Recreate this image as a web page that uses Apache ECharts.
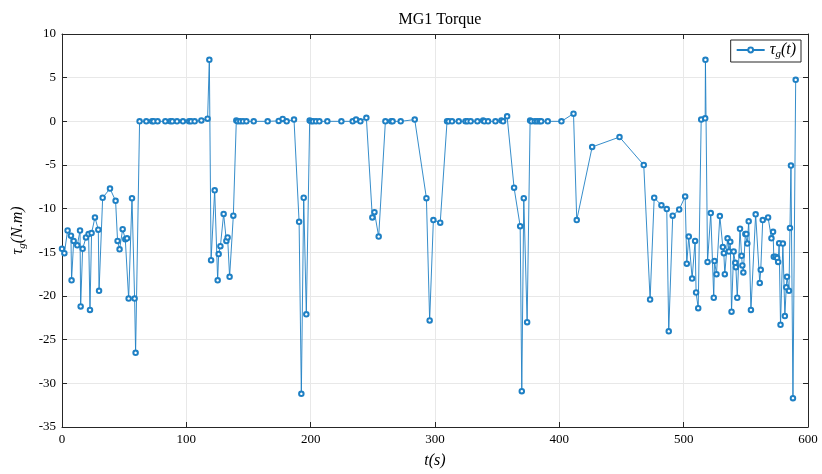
<!DOCTYPE html>
<html>
<head>
<meta charset="utf-8">
<script src="https://cdn.jsdelivr.net/npm/echarts@6/dist/echarts.min.js"></script>
<style>
  html, body { margin: 0; padding: 0; background: #fff; }
  #chart { width: 822px; height: 474px; }
</style>
</head>
<body>
<div id="chart"></div>
<script>
// time (s)
const time = [
  0, 1.9, 4.5, 7.2, 7.7, 9.4, 12.3, 14.5, 15, 16.6, 19.3, 21.4, 22.5, 23.8, 26.5, 29.2, 29.8,
  32.7, 38.6, 43.1, 44.7, 46.3, 48.8, 50.9, 52.3, 53.6, 56.3, 58.4, 59.2, 62.4, 67.8, 72.4,
  73.7, 76.9, 83.1, 87.1, 88.7, 92.5, 97.3, 102.2, 103.8, 106.7, 112.1, 117.1, 118.5, 119.9,
  122.8, 125.2, 126, 127.4, 130, 132.2, 133.2, 134.8, 137.8, 140.2, 141.3, 143.4, 145.6, 148.3,
  154.2, 165.4, 174.3, 177.5, 180.7, 186.6, 190.7, 192.5, 194.4, 196.5, 199.2, 200.3, 201.9,
  204.3, 207, 213.4, 224.7, 233.8, 236.5, 240, 244.8, 249.6, 251.3, 254.7, 260.1, 264.7, 265.9,
  272.4, 283.7, 293.1, 295.7, 298.7, 304.2, 309.7, 311, 313.7, 319.1, 324.5, 326.1, 328.7,
  334.1, 338.7, 339.7, 342.7, 348.6, 353.4, 354.8, 358, 363.6, 368.5, 369.8, 371.4, 374.1,
  376.5, 377.6, 380.3, 382.1, 384, 385.4, 390.7, 401.7, 411.4, 414, 426.4, 448.4, 467.9, 473,
  476.3, 482.1, 486.4, 488, 491.2, 496.4, 501.2, 502.5, 504.1, 506.8, 509.2, 510, 511.7, 514.1,
  517.3, 517.5, 519.2, 521.8, 524.2, 524.8, 526.4, 529.1, 531.5, 532.3, 533.1, 535.3, 536.4,
  537.5, 538.5, 540.2, 541.5, 542, 543.1, 545.3, 546.6, 547.2, 548, 549.6, 550.4, 551.2, 552.3,
  554.1, 557.9, 561.2, 562, 563.6, 567.9, 570.6, 571.9, 572.5, 573.9, 575.2, 576, 576.8, 577.9,
  579.8, 581.4, 582.5, 583.1, 584.7, 585.5, 586.3, 587.9, 590.1
]
// MG1 torque (N.m)
const torque = [
  -14.6, -15.1, -12.5, -13.1, -18.2, -13.7, -14.2, -12.5, -21.2, -14.6, -13.3, -12.9, -21.6, -12.8, -11.0, -12.4, -19.4,
  -8.75, -7.7, -9.1, -13.7, -14.65, -12.35, -13.5, -13.4, -20.3, -8.8, -20.3, -26.5, 0, 0, 0,
  0, 0, 0, 0, 0, 0, 0, 0, 0, 0, 0.1, 0.3, 7.05, -15.9,
  -7.9, -18.2, -15.2, -14.3, -10.6, -13.7, -13.3, -17.8, -10.8, 0.1, 0, 0, 0, 0,
  0, 0, 0.05, 0.27, 0, 0.2, -11.5, -31.2, -8.75, -22.1, 0.1, 0, 0,
  0, 0, 0, 0, 0, 0.2, 0, 0.4, -11.0, -10.4, -13.2, 0, 0, 0,
  0, 0.2, -8.8, -22.8, -11.3, -11.6, 0, 0, 0, 0, 0, 0, 0,
  0, 0.1, 0, 0, 0, 0.1, 0, 0.57, -7.6, -12.0, -30.9, -8.8, -23.0,
  0.1, 0, 0, 0, 0, 0, 0, 0, 0.88, -11.3, -2.93, -1.8, -5.0, -20.4,
  -8.75, -9.6, -10.05, -24.05, -10.8, -10.1, -8.6, -16.3, -13.2, -18.0, -13.7, -19.6, -21.4, 0.2,
  0.35, 7.05, -16.1, -10.5, -20.2, -16.0, -17.5, -10.85, -14.4, -15.1, -17.5, -13.4, -14.9,
  -13.8, -21.8, -14.9, -16.2, -16.7, -20.2, -12.3, -15.4, -16.5, -17.3, -12.9, -12.9, -14.0, -11.45,
  -21.6, -10.65, -18.5, -17.0, -11.3, -11.0, -13.4, -12.65, -15.5, -15.5, -15.65, -16.1, -13.95, -23.3,
  -14.0, -22.3, -19.0, -17.8, -19.4, -12.2, -5.07, -31.7, 4.75
]

const lineColor = "#1f80c4"
const axisColor = "#262626"
const gridColor = "#e8e8e8"
const serif = "Liberation Serif"

const chart = echarts.init(document.getElementById("chart"))

const tickAxisX = {
  type: "value",
  min: 0,
  max: 600,
  interval: 100,
  axisLine: { show: true, onZero: false, lineStyle: { color: axisColor, width: 1 } },
  axisTick: { show: true, inside: true, length: 5, lineStyle: { color: axisColor } },
}
const tickAxisY = {
  type: "value",
  min: -35,
  max: 10,
  interval: 5,
  axisLine: { show: true, onZero: false, lineStyle: { color: axisColor, width: 1 } },
  axisTick: { show: true, inside: true, length: 5, lineStyle: { color: axisColor } },
}

const richMath = {
  a: { fontFamily: serif, fontStyle: "italic", fontSize: 16, color: "#000", lineHeight: 20, verticalAlign: "middle" },
  b: { fontFamily: serif, fontStyle: "italic", fontSize: 11, color: "#000", lineHeight: 11, verticalAlign: "bottom" },
}

chart.setOption({
  animation: false,
  title: {
    text: "MG1 Torque",
    left: 435,
    top: 7,
    textAlign: "center",
    textStyle: { fontFamily: serif, fontWeight: "normal", fontSize: 16, color: "#000" },
  },
  grid: { left: 62, right: 14, top: 34, bottom: 46 },
  legend: {
    right: 21,
    top: 40,
    orient: "vertical",
    backgroundColor: "#fff",
    borderColor: axisColor,
    borderWidth: 1,
    borderRadius: 0,
    padding: [2, 5, 2, 5],
    itemWidth: 28,
    itemHeight: 6,
    itemGap: 2,
    formatter: () => "{a|τ}{b|g}{a|(t)}",
    textStyle: { rich: richMath },
  },
  xAxis: [
    {
      ...tickAxisX,
      position: "bottom",
      name: "{a|t}{a|(s)}",
      nameLocation: "middle",
      nameGap: 24,
      nameTextStyle: { rich: richMath },
      axisLabel: { fontFamily: serif, fontSize: 13, color: "#000", margin: 6 },
      splitLine: { show: true, lineStyle: { color: gridColor, width: 1 } },
    },
    {
      ...tickAxisX,
      position: "top",
      axisLabel: { show: false },
      splitLine: { show: false },
    },
  ],
  yAxis: [
    {
      ...tickAxisY,
      position: "left",
      name: "{a|τ}{b|g}{a|(N.m)}",
      nameLocation: "middle",
      nameGap: 21,
      nameRotate: 90,
      nameTextStyle: { rich: richMath },
      axisLabel: { fontFamily: serif, fontSize: 13, color: "#000", margin: 6 },
      splitLine: { show: true, lineStyle: { color: gridColor, width: 1 } },
    },
    {
      ...tickAxisY,
      position: "right",
      axisLabel: { show: false },
      splitLine: { show: false },
    },
  ],
  series: [
    {
      name: "tau_g(t)",
      type: "line",
      xAxisIndex: 0,
      yAxisIndex: 0,
      data: time.map((t, i) => [t, torque[i]]),
      symbol: "emptyCircle",
      symbolSize: 4.5,
      showAllSymbol: true,
      lineStyle: { color: lineColor, width: 0.9 },
      itemStyle: { color: lineColor, borderColor: lineColor, borderWidth: 0.7 },
    },
  ],
})
</script>
</body>
</html>
